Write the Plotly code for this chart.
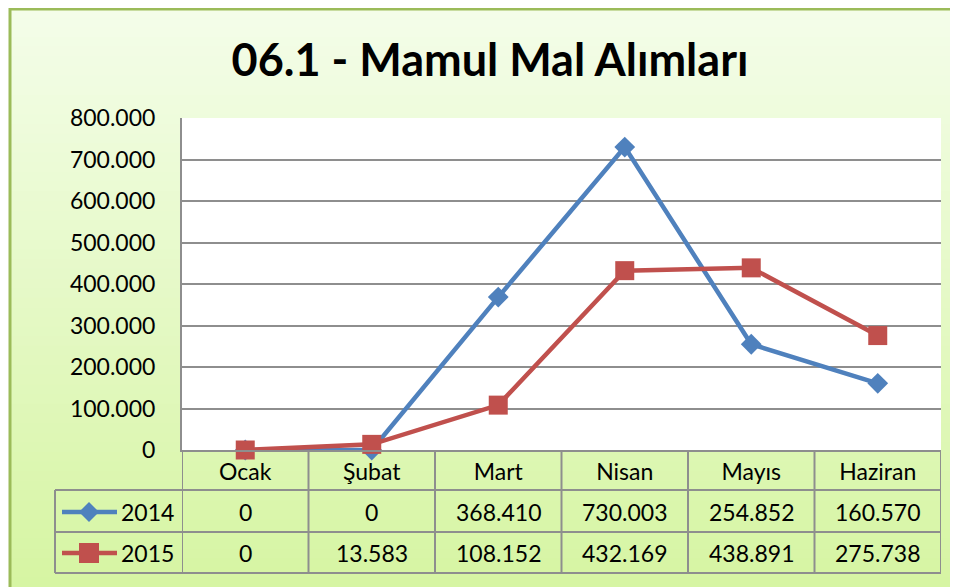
import plotly.graph_objects as go

months = ["Ocak", "Şubat", "Mart", "Nisan", "Mayıs", "Haziran"]
years = ["2014", "2015"]
values_2014 = [0, 0, 368410, 730003, 254852, 160570]
values_2015 = [0, 13583, 108152, 432169, 438891, 275738]
y_ticks = [0, 100000, 200000, 300000, 400000, 500000, 600000, 700000, 800000]

# page is drawn with an 8px body margin, so work in page pixels and shift
OFF = 8
W, H = 958 - OFF, 587 - OFF
L, T = 182 - OFF, 118 - OFF
PW, PH = 941 - 182, 450 - 118
R, B = W - L - PW, H - T - PH

BLUE = "#4f81bd"
RED = "#c0504d"
GRID = "#8e8e8e"
FONT = "Lato"
FS = 23


def px(x):
    return (x - OFF - L) / PW


def py(y):
    return (T + PH - (y - OFF)) / PH


def fmt(v):
    return f"{v:,}".replace(",", ".")


fig = go.Figure()
for name, vals, color, symbol, size in [
    (years[0], values_2014, BLUE, "diamond", 16),
    (years[1], values_2015, RED, "square", 19),
]:
    fig.add_trace(
        go.Scatter(
            x=months,
            y=vals,
            name=name,
            mode="lines+markers",
            line=dict(color=color, width=4.5),
            marker=dict(symbol=symbol, size=size, color=color),
            cliponaxis=False,
        )
    )

shapes = []
# background gradient inside the frame
top, bot = (0xF4, 0xFD, 0xE9), (0xD6, 0xF5, 0xA3)
n = 60
y0 = OFF
for i in range(n):
    t = i / (n - 1)
    c = tuple(round(a + (b - a) * t) for a, b in zip(top, bot))
    ya = y0 + (587 - y0) * i / n
    yb = y0 + (587 - y0) * (i + 1) / n + 1
    shapes.append(dict(type="rect", xref="paper", yref="paper", layer="below",
                       x0=px(10), x1=px(958), y0=py(ya), y1=py(yb),
                       fillcolor="rgb(%d,%d,%d)" % c, line=dict(width=0)))
# white plot area
shapes.append(dict(type="rect", xref="paper", yref="paper", layer="below",
                   x0=0, x1=1, y0=0, y1=1, fillcolor="white", line=dict(width=0)))
# frame
shapes.append(dict(type="line", xref="paper", yref="paper", x0=px(10), x1=px(958),
                   y0=py(OFF + 1), y1=py(OFF + 1), line=dict(color="#9bbb59", width=3)))
shapes.append(dict(type="line", xref="paper", yref="paper", x0=px(10), x1=px(10),
                   y0=py(OFF), y1=py(587), line=dict(color="#9bbb59", width=3)))

# data table grid
tline = dict(color=GRID, width=2)
for yy in (490, 532, 573):
    shapes.append(dict(type="line", xref="paper", yref="paper", x0=px(55), x1=1,
                       y0=py(yy), y1=py(yy), line=tline))
shapes.append(dict(type="line", xref="paper", yref="paper", x0=px(55), x1=px(55),
                   y0=py(490), y1=py(573), line=tline))
for i in range(len(months) + 1):
    shapes.append(dict(type="line", xref="x", yref="paper", x0=i - 0.5, x1=i - 0.5,
                       y0=0, y1=py(573), line=tline))

# legend keys in the table
for yy, color, kind in [(512, BLUE, "diamond"), (553, RED, "square")]:
    shapes.append(dict(type="line", xref="paper", yref="paper", x0=px(62), x1=px(117),
                       y0=py(yy), y1=py(yy), line=dict(color=color, width=4.5)))
    if kind == "diamond":
        path = "M %f,%f L %f,%f L %f,%f L %f,%f Z" % (
            px(89), py(yy - 10), px(99), py(yy), px(89), py(yy + 10), px(79), py(yy))
        shapes.append(dict(type="path", xref="paper", yref="paper", path=path,
                           fillcolor=color, line=dict(width=0)))
    else:
        shapes.append(dict(type="rect", xref="paper", yref="paper",
                           x0=px(79), x1=px(99), y0=py(yy - 10), y1=py(yy + 10),
                           fillcolor=color, line=dict(width=0)))

annotations = []
for yy, name, vals in [(512, years[0], values_2014), (553, years[1], values_2015)]:
    annotations.append(dict(text=name, xref="paper", yref="paper", x=px(119), y=py(yy),
                            xanchor="left", yanchor="middle", showarrow=False,
                            font=dict(family=FONT, size=FS, color="black")))
    for m, v in zip(months, vals):
        annotations.append(dict(text=fmt(v), xref="x", yref="paper", x=m, y=py(yy),
                                xanchor="center", yanchor="middle", showarrow=False,
                                font=dict(family=FONT, size=FS, color="black")))

fig.update_layout(
    width=W,
    height=H,
    margin=dict(l=L, r=R, t=T, b=B, pad=0),
    paper_bgcolor="white",
    plot_bgcolor="rgba(0,0,0,0)",
    separators=",.",
    showlegend=False,
    title=dict(text="<b>06.1 - Mamul Mal Alımları</b>", x=(490 - OFF) / W,
               xanchor="center", y=1 - (60 - OFF) / H, yanchor="middle",
               font=dict(family=FONT, size=45, color="black")),
    font=dict(family=FONT, size=FS, color="black"),
    shapes=shapes,
    annotations=annotations,
)
fig.update_xaxes(
    type="category",
    range=[-0.5, len(months) - 0.5],
    showgrid=False,
    showline=True,
    linecolor=GRID,
    linewidth=2,
    ticks="",
    ticklabelstandoff=0,
    tickfont=dict(family=FONT, size=FS, color="black"),
)
fig.update_yaxes(
    range=[0, 800000],
    tickvals=y_ticks,
    tickformat=",d",
    showgrid=True,
    gridcolor=GRID,
    gridwidth=2,
    showline=True,
    linecolor=GRID,
    linewidth=2,
    zeroline=False,
    ticks="",
    ticklabelstandoff=20,
    tickfont=dict(family=FONT, size=FS, color="black"),
)

fig.write_html("out.html")
